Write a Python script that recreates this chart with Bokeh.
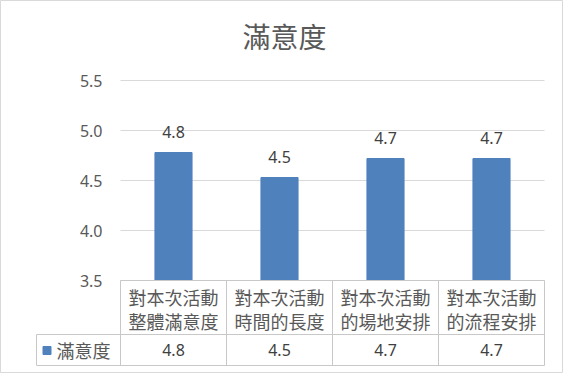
from bokeh.plotting import figure
from bokeh.models import Range1d
from bokeh.core.properties import value
from bokeh.embed import file_html
from bokeh.resources import INLINE

# ---------------- data ----------------
title_text = "滿意度"
series_name = "滿意度"
categories = ["對本次活動\n整體滿意度", "對本次活動\n時間的長度",
              "對本次活動\n的場地安排", "對本次活動\n的流程安排"]
values = [4.78, 4.53, 4.72, 4.72]
value_labels = ["4.8", "4.5", "4.7", "4.7"]
y_ticks = [3.5, 4.0, 4.5, 5.0, 5.5]
y_tick_labels = ["3.5", "4.0", "4.5", "5.0", "5.5"]

# ---------------- layout constants (pixels) ----------------
W, H = 563, 373
PX0 = 120          # left edge of plot area
CAT_W = 106        # width of one category
Y_MIN = 3.5
Y0_PX = 280        # pixel row of Y_MIN
PPU = 100          # pixels per value unit

def xu(px):
    return (px - PX0) / CAT_W

def yv(py):
    return Y_MIN + (Y0_PX - py) / PPU

CJK = value("Noto Sans CJK TC")
NUM = value("Noto Sans")
TXT = "#595959"
GRID = "#d9d9d9"
TABLE = "#c8c8c8"
BAR = "#4F81BD"

n = len(categories)
centers = [i + 0.5 for i in range(n)]

p = figure(width=W, height=H,
           x_range=Range1d(xu(0), xu(W)), y_range=Range1d(yv(H), yv(0)),
           output_backend="svg", toolbar_location=None, min_border=0,
           x_axis_location=None, y_axis_location=None,
           outline_line_color=GRID, background_fill_color="white",
           border_fill_color="white")
p.xgrid.visible = False
p.ygrid.visible = False

# gridlines
p.segment(x0=[0] * len(y_ticks), x1=[n] * len(y_ticks), y0=y_ticks, y1=y_ticks,
          line_color=GRID, line_width=1)

# bars
p.vbar(x=centers, top=values, bottom=Y_MIN, width=0.35,
       fill_color=BAR, line_color=BAR)

# value labels above bars
p.text(x=centers, y=values, text=value_labels, y_offset=-21,
       text_align="center", text_baseline="middle",
       text_font=NUM, text_font_size="16px", text_color="#404040")

# y tick labels
p.text(x=[0] * len(y_ticks), y=y_ticks, text=y_tick_labels, x_offset=-18,
       text_align="right", text_baseline="middle",
       text_font=NUM, text_font_size="16px", text_color=TXT)

# title
p.text(x=[xu(284)], y=[yv(35)], text=[title_text],
       text_align="center", text_baseline="middle",
       text_font=CJK, text_font_size="28px", text_color=TXT)

# ---------------- data table ----------------
row_top = Y_MIN
row_mid = yv(334)
row_bot = yv(365)
leg_left = xu(36)

# horizontal lines
p.segment(x0=[0, leg_left, leg_left], x1=[n, n, n],
          y0=[row_top, row_mid, row_bot], y1=[row_top, row_mid, row_bot],
          line_color=TABLE, line_width=1)
# vertical lines
p.segment(x0=list(range(n + 1)) + [leg_left], x1=list(range(n + 1)) + [leg_left],
          y0=[row_top] * (n + 1) + [row_mid], y1=[row_bot] * (n + 1) + [row_bot],
          line_color=TABLE, line_width=1)

line1 = [c.split("\n")[0] for c in categories]
line2 = [c.split("\n")[1] for c in categories]
p.text(x=centers, y=[yv(296)] * n, text=line1, text_align="center",
       text_baseline="middle", text_font=CJK, text_font_size="18px", text_color=TXT)
p.text(x=centers, y=[yv(320)] * n, text=line2, text_align="center",
       text_baseline="middle", text_font=CJK, text_font_size="18px", text_color=TXT)

# data row
p.text(x=centers, y=[yv(349.5)] * n, text=value_labels, text_align="center",
       text_baseline="middle", text_font=NUM, text_font_size="16px", text_color="#404040")

# legend key in table
p.scatter(x=[xu(46.5)], y=[yv(350)], marker="square", size=8,
          fill_color=BAR, line_color=BAR)
p.text(x=[xu(56)], y=[yv(349.5)], text=[series_name], text_align="left",
       text_baseline="middle", text_font=CJK, text_font_size="18px", text_color=TXT)

open("out.html", "w").write(file_html(p, INLINE))
